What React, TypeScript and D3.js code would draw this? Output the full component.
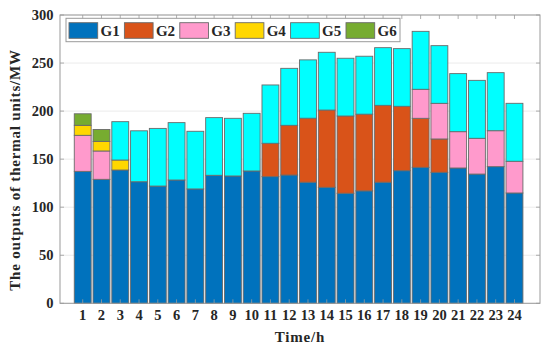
import * as d3 from "d3";
import React from "react";

// hours on the x axis
const hours = [1, 2, 3, 4, 5, 6, 7, 8, 9, 10, 11, 12, 13, 14, 15, 16, 17, 18, 19, 20, 21, 22, 23, 24];

// output of each thermal unit (MW)
const g1 = [137.3, 129, 138.7, 126.5, 122, 128.3, 119, 133.2, 132.5, 137.7, 131.8, 133.5, 126, 120.7, 114.5, 117, 126, 138, 141.5, 136.3, 140.8, 134.5, 142.2, 114.8];
const g2 = [0, 0, 0, 0, 0, 0, 0, 0, 0, 0, 34.7, 51.7, 66.6, 80.4, 80.4, 79.8, 80, 67, 51, 34.7, 0, 0, 0, 0];
const g3 = [37.5, 29.5, 0, 0, 0, 0, 0, 0, 0, 0, 0, 0, 0, 0, 0, 0, 0, 0, 30.2, 37.1, 37.8, 37.2, 37.4, 33];
const g4 = [10.4, 10, 10.4, 0, 0, 0, 0, 0, 0, 0, 0, 0, 0, 0, 0, 0, 0, 0, 0, 0, 0, 0, 0, 0];
const g5 = [0, 0, 39.9, 53, 60, 59.7, 60, 60, 60, 60, 60.7, 59.3, 60.7, 60.1, 60.1, 60.3, 60, 60, 60.3, 60, 60.4, 60.3, 60.4, 60.3];
const g6 = [12, 12.4, 0, 0, 0, 0, 0, 0, 0, 0, 0, 0, 0, 0, 0, 0, 0, 0, 0, 0, 0, 0, 0, 0];

const units = ["G1", "G2", "G3", "G4", "G5", "G6"];
const colors = ["#0072BD", "#D95319", "#FF9ACC", "#FFD700", "#00FFFF", "#77AC30"];
const yTicks = [0, 50, 100, 150, 200, 250, 300];

const W = 550;
const H = 349;
const left = 60, right = 540, top = 15, bottom = 303.3;
const font = "'Liberation Serif', 'Times New Roman', serif";

export default function App() {
  const series = [g1, g2, g3, g4, g5, g6];
  const rows = hours.map((h, i) => {
    const r: any = { hour: h };
    units.forEach((u, k) => (r[u] = series[k][i]));
    return r;
  });
  const stacked = d3.stack().keys(units)(rows);

  const x = d3.scaleLinear().domain([-0.21, 25.36]).range([left, right]);
  const y = d3.scaleLinear().domain([0, 300]).range([bottom, top]);
  const bw = x(0.45) - x(-0.45);

  const axisColor = "#9a9a9a";
  const txt = "#262626";
  const tick = 4;

  // legend layout
  const legX = 66, legY = 18.3, legW = 334, legH = 23.4;
  const step = 55.4;

  return (
    <svg width={W} height={H} style={{ position: "absolute", left: 0, top: 0, background: "#fff" }}>
      {/* grid */}
      {yTicks.map((t) => (
        <line key={"g" + t} x1={left} x2={right} y1={y(t)} y2={y(t)} stroke="#e6e6e6" strokeWidth={0.8} />
      ))}

      {/* bars */}
      {stacked.map((s, k) => (
        <g key={units[k]} fill={colors[k]}>
          {s.map((d, i) =>
            d[1] - d[0] > 0 ? (
              <rect
                key={i}
                x={x(hours[i]) - bw / 2}
                y={y(d[1])}
                width={bw}
                height={y(d[0]) - y(d[1])}
                stroke="#6a6a6a"
                strokeWidth={0.9}
              />
            ) : null
          )}
        </g>
      ))}

      {/* axes box */}
      <rect x={left} y={top} width={right - left} height={bottom - top} fill="none" stroke={axisColor} strokeWidth={1} />
      {hours.map((h) => (
        <g key={"xt" + h} stroke={axisColor} strokeWidth={0.8}>
          <line x1={x(h)} x2={x(h)} y1={bottom} y2={bottom - tick} />
          <line x1={x(h)} x2={x(h)} y1={top} y2={top + tick} />
        </g>
      ))}
      {yTicks.map((t) => (
        <g key={"yt" + t} stroke={axisColor} strokeWidth={0.8}>
          <line x1={left} x2={left + tick} y1={y(t)} y2={y(t)} />
          <line x1={right} x2={right - tick} y1={y(t)} y2={y(t)} />
        </g>
      ))}

      {/* tick labels */}
      {hours.map((h) => (
        <text key={"xl" + h} x={x(h)} y={320} textAnchor="middle" fontFamily={font} fontWeight="bold" fontSize={14.5} fill={txt}>
          {h}
        </text>
      ))}
      {yTicks.map((t) => (
        <text key={"yl" + t} x={53.5} y={y(t)} dy="0.35em" textAnchor="end" fontFamily={font} fontWeight="bold" fontSize={14.5} fill={txt}>
          {t}
        </text>
      ))}

      {/* axis titles */}
      <text x={(left + right) / 2} y={341.5} textAnchor="middle" fontFamily={font} fontWeight="bold" fontSize={15} letterSpacing={0.8} fill={txt}>
        Time/h
      </text>
      <text
        transform="translate(20,170) rotate(-90)"
        textAnchor="middle"
        fontFamily={font}
        fontWeight="bold"
        fontSize={15}
        letterSpacing={0.8}
        fill={txt}
      >
        The outputs of thermal units/MW
      </text>

      {/* legend */}
      <rect x={legX} y={legY} width={legW} height={legH} fill="#fff" stroke={axisColor} strokeWidth={1} />
      {units.map((u, k) => (
        <g key={"lg" + u}>
          <rect x={69 + k * step} y={22.7} width={28.7} height={15.6} fill={colors[k]} stroke="#6a6a6a" strokeWidth={0.9} />
          <text x={69 + k * step + 31.5} y={35.5} fontFamily={font} fontWeight="bold" fontSize={15} fill={txt}>
            {u}
          </text>
        </g>
      ))}
    </svg>
  );
}
